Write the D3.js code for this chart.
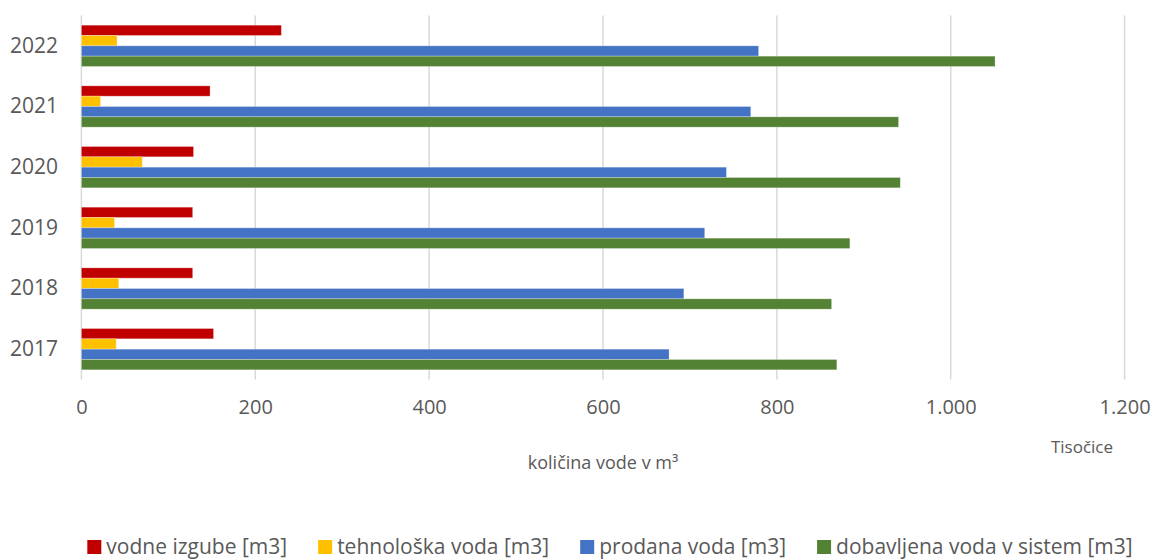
<!DOCTYPE html>
<html>
<head>
<meta charset="utf-8">
<script src="https://cdn.jsdelivr.net/npm/d3@7"></script>
<style>
  html, body { margin: 0; padding: 0; background: #ffffff; }
  svg { display: block; }
  text { font-family: "Open Sans", "Noto Sans", sans-serif; fill: #595959; }
</style>
</head>
<body>
<svg id="chart" width="1154" height="559"></svg>
<script>
// ---- data ----
const years = ["2017", "2018", "2019", "2020", "2021", "2022"];
const seriesNames = ["vodne izgube [m3]", "tehnološka voda [m3]", "prodana voda [m3]", "dobavljena voda v sistem [m3]"];
const seriesColors = ["#C00000", "#FFC000", "#4472C4", "#548235"];
const vodneIzgube   = [152, 128, 128, 129, 148, 230];
const tehnoloskaVoda = [40, 43, 38, 70, 22, 41];
const prodanaVoda   = [676, 693, 717, 742, 770, 779];
const dobavljenaVoda = [869, 863, 884, 942, 940, 1051];
const xTicks = [0, 200, 400, 600, 800, 1000, 1200];
const xTickLabels = ["0", "200", "400", "600", "800", "1.000", "1.200"];
const xAxisTitle = "količina vode v m³";
const unitLabel = "Tisočice";

const seriesValues = [vodneIzgube, tehnoloskaVoda, prodanaVoda, dobavljenaVoda];

// ---- layout ----
const svg = d3.select("#chart");
const plotLeft = 81.4, plotRight = 1124.6, plotTop = 15.5, plotBottom = 379.5;

const x = d3.scaleLinear().domain([0, 1200]).range([plotLeft, plotRight]);
const y0 = d3.scaleBand()
  .domain(years.slice().reverse())
  .range([plotTop, plotBottom])
  .paddingInner(0.319)
  .paddingOuter(0.1595);
const y1 = d3.scaleBand()
  .domain(d3.range(seriesNames.length))
  .range([0, y0.bandwidth()]);

// gridlines
svg.append("g")
  .selectAll("line")
  .data(xTicks)
  .join("line")
  .attr("x1", d => x(d)).attr("x2", d => x(d))
  .attr("y1", plotTop).attr("y2", plotBottom)
  .attr("stroke", "#d9d9d9")
  .attr("stroke-width", 1.5);

// x tick labels via axis
const xAxis = d3.axisBottom(x)
  .tickValues(xTicks)
  .tickFormat((d, i) => xTickLabels[i])
  .tickSize(0)
  .tickPadding(0);
const gx = svg.append("g")
  .attr("transform", `translate(0, 400)`)
  .call(xAxis);
gx.select(".domain").remove();
gx.selectAll("text")
  .attr("dy", "0.71em")
  .attr("y", 0)
  .style("font-size", "20px")
  .style("font-family", "'Open Sans', sans-serif")
  .attr("fill", "#595959");

// y labels via axis
const yAxis = d3.axisLeft(y0).tickSize(0).tickPadding(0);
const gy = svg.append("g")
  .attr("transform", `translate(58, 0)`)
  .call(yAxis);
gy.select(".domain").remove();
gy.selectAll("text")
  .style("font-size", "21px")
  .style("font-family", "'Open Sans', sans-serif")
  .attr("fill", "#595959");

// bars
const rows = [];
years.forEach((yr, i) => {
  seriesValues.forEach((vals, s) => {
    rows.push({ year: yr, s: s, value: vals[i] });
  });
});

svg.append("g")
  .selectAll("rect")
  .data(rows)
  .join("rect")
  .attr("x", x(0))
  .attr("y", d => y0(d.year) + y1(d.s))
  .attr("width", d => x(d.value) - x(0))
  .attr("height", y1.bandwidth())
  .attr("fill", d => seriesColors[d.s])
  .attr("stroke", "rgba(255,255,255,0.35)")
  .attr("stroke-width", 0.8);

// axis titles
svg.append("text")
  .attr("x", 1082).attr("y", 453)
  .attr("text-anchor", "middle")
  .style("font-size", "17px")
  .text(unitLabel);

svg.append("text")
  .attr("x", 603).attr("y", 469)
  .attr("text-anchor", "middle")
  .style("font-size", "18px")
  .text(xAxisTitle);

// legend
const legend = svg.append("g");
let cx = 0;
seriesNames.forEach((name, i) => {
  const g = legend.append("g").attr("transform", `translate(${cx},0)`);
  g.append("rect").attr("x", 0).attr("y", -14).attr("width", 14).attr("height", 14)
    .attr("fill", seriesColors[i]);
  const t = g.append("text").attr("x", 19).attr("y", 0)
    .style("font-size", "21px")
    .text(name);
  const w = t.node().getComputedTextLength();
  cx += 19 + w + 31;
});
const totalW = cx - 31;
legend.attr("transform", `translate(${610 - totalW / 2}, 554)`);
</script>
</body>
</html>
